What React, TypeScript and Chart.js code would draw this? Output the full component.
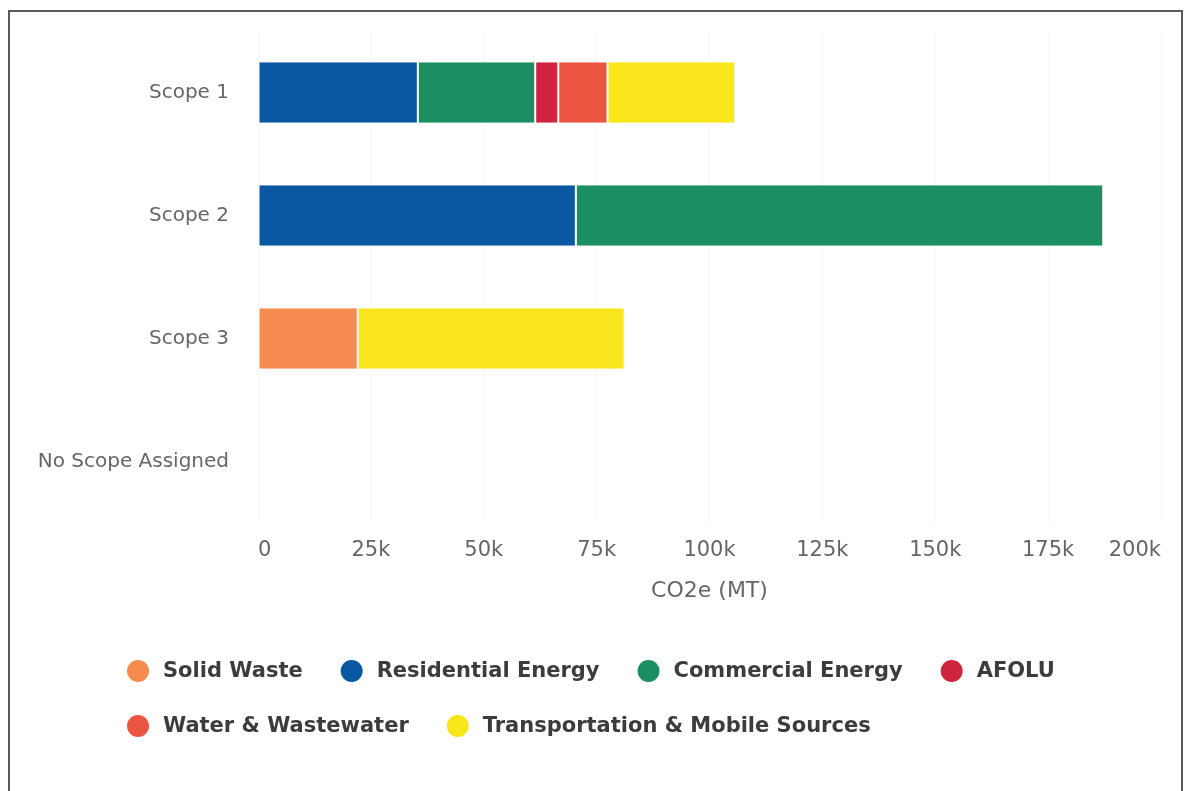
import React, { useEffect, useRef } from "react";
import { Chart, registerables } from "chart.js";

Chart.register(...registerables);

const categories = ["Scope 1", "Scope 2", "Scope 3", "No Scope Assigned"];

const seriesNames = [
  "Solid Waste",
  "Residential Energy",
  "Commercial Energy",
  "AFOLU",
  "Water & Wastewater",
  "Transportation & Mobile Sources",
];

const solidWaste = [null, null, 22100, null];
const residentialEnergy = [35400, 70400, null, null];
const commercialEnergy = [26000, 116800, null, null];
const afolu = [5100, null, null, null];
const waterWastewater = [10900, null, null, null];
const transportation = [28300, null, 59100, null];

const seriesValues = [solidWaste, residentialEnergy, commercialEnergy, afolu, waterWastewater, transportation];

const seriesColors = ["#F68B50", "#0B58A2", "#1B8E62", "#CF2340", "#EC5541", "#F9E51B"];

const xMin = 0;
const xMax = 200000;
const xStep = 25000;
const xTitle = "CO2e (MT)";

const legendPlugin = {
  id: "bottomLegend",
  afterDraw(chart: any) {
    const ctx = chart.ctx;
    ctx.save();
    ctx.font = "bold 21px 'DejaVu Sans'";
    ctx.textBaseline = "middle";
    ctx.textAlign = "left";
    const startX = 117;
    const maxRight = 1100;
    const rowH = 55;
    let x = startX;
    let y = 659;
    chart.data.datasets.forEach((ds: any) => {
      const w = 36 + ctx.measureText(ds.label).width;
      if (x > startX && x + w > maxRight) {
        x = startX;
        y += rowH;
      }
      ctx.fillStyle = ds.backgroundColor;
      ctx.beginPath();
      ctx.arc(x + 11, y, 11, 0, Math.PI * 2);
      ctx.fill();
      ctx.fillStyle = "#3c3c3c";
      ctx.fillText(ds.label, x + 36, y + 1);
      x += w + 38;
    });
    ctx.restore();
  },
};

export default function App() {
  const ref = useRef<HTMLCanvasElement | null>(null);

  useEffect(() => {
    if (!ref.current) return;
    const chart = new Chart(ref.current, {
      type: "bar",
      data: {
        labels: categories,
        datasets: seriesNames.map((name, i) => ({
          label: name,
          data: seriesValues[i],
          backgroundColor: seriesColors[i],
          borderColor: "#ffffff",
          borderWidth: { left: 1, right: 1, top: 0, bottom: 0 },
          borderSkipped: false,
          barPercentage: 0.49,
          categoryPercentage: 1,
        })),
      },
      options: {
        indexAxis: "y",
        animation: false,
        responsive: false,
        maintainAspectRatio: false,
        layout: { padding: { top: 19, right: 20, bottom: 178, left: 0 } },
        plugins: {
          legend: { display: false },
          tooltip: { enabled: false },
        },
        scales: {
          x: {
            stacked: true,
            min: xMin,
            max: xMax,
            border: { display: false },
            grid: { display: true, color: "#f7f7f7", drawTicks: false },
            ticks: {
              stepSize: xStep,
              align: "inner",
              padding: 15,
              color: "#666666",
              font: { family: "'DejaVu Sans'", size: 21 },
              callback: (v: any) => (Number(v) === 0 ? "0" : Number(v) / 1000 + "k"),
            },
            title: {
              display: true,
              text: xTitle,
              color: "#666666",
              font: { family: "'DejaVu Sans'", size: 22 },
              padding: { top: 0, bottom: 9 },
            },
            afterFit: (scale: any) => {
              scale.height = 90;
              scale.paddingLeft = 0;
              scale.paddingRight = 0;
            },
          },
          y: {
            stacked: true,
            border: { display: false },
            grid: { display: false, drawTicks: false },
            ticks: {
              padding: 29,
              color: "#666666",
              font: { family: "'DejaVu Sans'", size: 20 },
            },
            afterFit: (scale: any) => {
              scale.width = 248;
              scale.paddingTop = 0;
              scale.paddingBottom = 0;
            },
          },
        },
      },
      plugins: [legendPlugin],
    });
    return () => chart.destroy();
  }, []);

  return (
    <div
      style={{
        position: "fixed",
        left: 8,
        top: 10,
        width: 1175,
        height: 800,
        boxSizing: "border-box",
        borderTop: "2px solid #5a5a5a",
        borderLeft: "2px solid #5a5a5a",
        borderRight: "2px solid #5a5a5a",
        background: "#ffffff",
      }}
    >
      <canvas ref={ref} width={1171} height={779} style={{ display: "block" }} />
    </div>
  );
}
